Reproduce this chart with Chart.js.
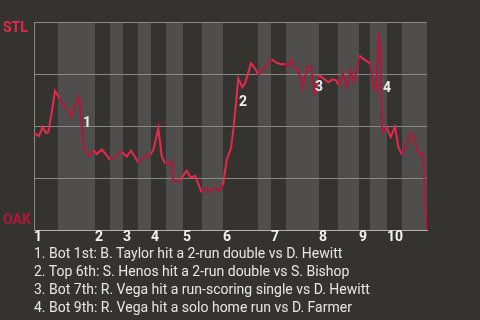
<!DOCTYPE html>
<html><head><meta charset="utf-8">
<script src="https://cdn.jsdelivr.net/npm/chart.js@4"></script>
<style>
html,body{margin:0;padding:0;background:#353330;width:480px;height:320px;overflow:hidden;font-family:Roboto,sans-serif}
#c{position:absolute;left:0;top:0}
#notes{position:absolute;left:34px;top:244px;color:#e6e6e6;font-size:14px;line-height:18px;white-space:nowrap}
</style></head><body>
<canvas id="c" width="480" height="250"></canvas>
<div id="notes"></div>
<script>
// Game progress (0-100) of each play and STL win probability after it
const playPos = [0,1.27,2.21,3.05,3.64,4.5,5.34,6.44,7.46,8.4,
 9.34,10.43,11.45,12.04,12.39,12.98,14.12,15.14,16.03,17.23,
 18.32,19.34,20.61,22.32,23.59,24.68,26.54,27.81,29.69,30.41,
 31.63,32.49,33.33,34.17,34.99,35.5,37.15,38.85,39.87,41.0,
 42.67,43.94,44.91,46.06,47.0,48.09,49.03,50.13,50.71,51.32,
 51.98,53.0,53.69,55.22,56.23,57.12,58.35,60.48,61.76,62.77,
 63.87,64.45,65.32,66.41,67.25,68.37,69.54,70.48,71.32,71.76,
 72.44,73.61,74.89,75.9,76.77,77.61,78.55,79.57,80.59,81.42,
 82.11,82.77,83.64,85.5,85.93,86.59,87.02,87.4,87.79,88.12,
 88.42,88.63,89.64,90.76,91.86,92.7,93.64,95.85,96.51,97.79,
 98.98,99.24,99.62,100];
const winProb = [0.466,0.452,0.495,0.466,0.471,0.563,0.668,0.635,0.601,0.587,
 0.543,0.591,0.644,0.543,0.433,0.385,0.353,0.382,0.365,0.387,
 0.363,0.337,0.351,0.376,0.353,0.381,0.325,0.346,0.365,0.387,
 0.489,0.356,0.321,0.313,0.332,0.232,0.240,0.285,0.251,0.260,
 0.181,0.200,0.184,0.203,0.188,0.216,0.337,0.394,0.481,0.593,
 0.729,0.686,0.705,0.801,0.777,0.745,0.777,0.821,0.804,0.797,
 0.798,0.785,0.817,0.777,0.766,0.681,0.785,0.785,0.657,0.660,
 0.745,0.729,0.710,0.724,0.721,0.694,0.753,0.689,0.764,0.713,
 0.773,0.839,0.825,0.801,0.753,0.673,0.673,0.817,0.950,0.817,
 0.591,0.468,0.497,0.447,0.497,0.400,0.361,0.462,0.446,0.368,
 0.368,0.273,0.088,0];
// Half-inning boundaries (top, bottom, top, bottom, ...)
const halfBounds = [0,6.11,15.52,19.34,22.65,26.46,29.77,33.59,37.91,42.75,48.09,57.0,60.31,64.12,72.52,77.35,82.7,85.5,89.82,93.64,100];
const inningLabels = ["1","2","3","4","5","6","7","8","9","10"];
const teams = ["OAK","STL"];
const annLabels = ["1","2","3","4"];
const annX = [13.49,53.18,72.52,89.82];
const annY = [0.514,0.615,0.6875,0.678];
const notes = [
 "1. Bot 1st: B. Taylor hit a 2-run double vs D. Hewitt",
 "2. Top 6th: S. Henos hit a 2-run double vs S. Bishop",
 "3. Bot 7th: R. Vega hit a run-scoring single vs D. Hewitt",
 "4. Bot 9th: R. Vega hit a solo home run vs D. Farmer"
];

const STL_RED = '#e8294c', OAK_RED = '#b3173b';
const BAND_TOP = '#353330', BAND_BOT = '#4f4e4c';
const inningStarts = halfBounds.filter((v,i)=>i%2===0 && i<halfBounds.length-1);

document.getElementById('notes').innerHTML = notes.map(t=>'<div>'+t+'</div>').join('');

function halfIndex(v){
  for(let i=0;i<halfBounds.length-1;i++){ if(v>=halfBounds[i] && v<halfBounds[i+1]) return i; }
  return halfBounds.length-2;
}

const wpPlugin = {
  id:'wp',
  beforeDraw(chart){
    const {ctx, chartArea:a, scales:{x}} = chart;
    ctx.save();
    for(let i=0;i<halfBounds.length-1;i++){
      const x0=Math.round(x.getPixelForValue(halfBounds[i])), x1=Math.round(x.getPixelForValue(halfBounds[i+1]));
      ctx.fillStyle = i%2 ? BAND_BOT : BAND_TOP;
      ctx.fillRect(x0,a.top,x1-x0,a.bottom-a.top);
    }
    ctx.restore();
  },
  afterDraw(chart){
    const {ctx, scales:{x,y}} = chart;
    ctx.save();
    ctx.font = 'bold 14px Roboto';
    ctx.textBaseline = 'middle';
    ctx.textAlign = 'left';
    ctx.fillStyle = STL_RED; ctx.fillText(teams[1], 3, y.getPixelForValue(1)+6);
    ctx.fillStyle = OAK_RED; ctx.fillText(teams[0], 3, y.getPixelForValue(0)-10);
    ctx.textAlign = 'center';
    ctx.fillStyle = '#eeeeee';
    annLabels.forEach((t,i)=>ctx.fillText(t, x.getPixelForValue(annX[i]), y.getPixelForValue(annY[i])));
    ctx.restore();
  }
};

new Chart(document.getElementById('c'), {
  type:'line',
  data:{datasets:[{
    data: playPos.map((p,i)=>({x:p,y:winProb[i]})),
    borderWidth:2, pointRadius:0, tension:0, fill:false,
    borderColor: STL_RED,
    segment:{ borderColor: ctx => halfIndex((ctx.p0.parsed.x+ctx.p1.parsed.x)/2)%2 ? OAK_RED : STL_RED }
  }]},
  options:{
    responsive:false, animation:false, events:[],
    layout:{padding:{left:34,right:53,top:22,bottom:6}},
    plugins:{legend:{display:false},tooltip:{enabled:false}},
    scales:{
      x:{type:'linear',min:0,max:100,
        afterBuildTicks: ax => { ax.ticks = inningStarts.map(v=>({value:v})); },
        grid:{display:false,drawTicks:false},
        border:{display:true,color:'#b4b4b4',width:1},
        ticks:{autoSkip:false,maxRotation:0,align:'start',padding:0,color:'#f2f2f2',
          font:{family:'Roboto',size:14,weight:'bold',lineHeight:1},
          callback:(v,i)=>inningLabels[i]}
      },
      y:{min:0,max:1,
        ticks:{display:false,stepSize:0.25},
        grid:{color:'#8a8988',lineWidth:1,drawTicks:false},
        border:{display:true,color:'#8a8988',width:1}
      }
    }
  },
  plugins:[wpPlugin]
});
</script>
</body></html>
